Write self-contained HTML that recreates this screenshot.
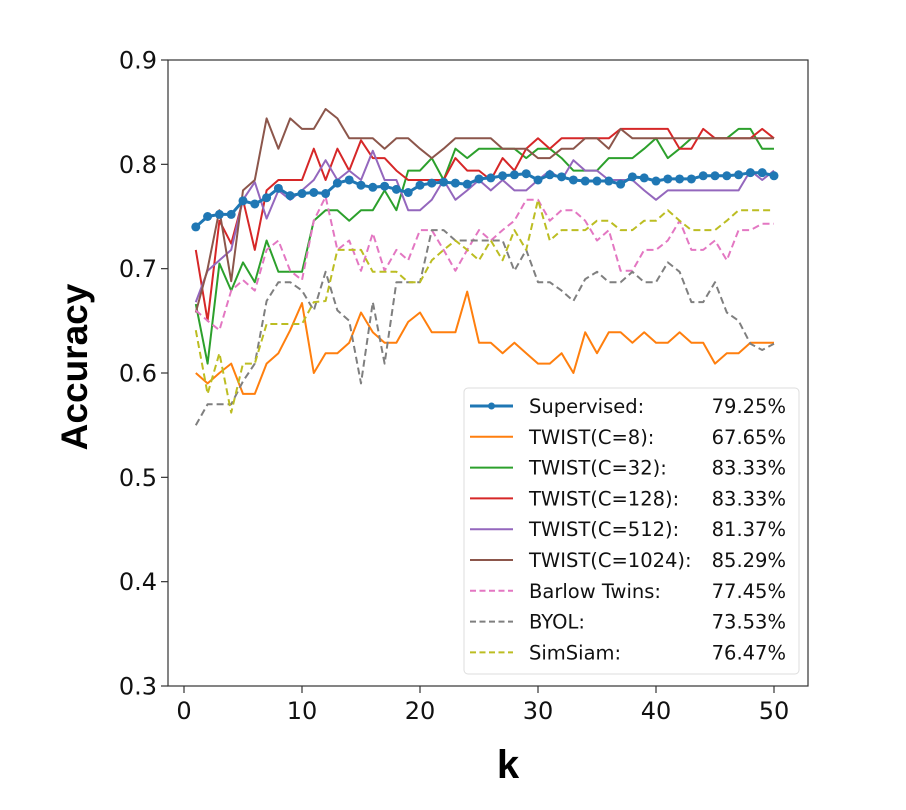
<!DOCTYPE html>
<html><head><meta charset="utf-8"><style>
body{margin:0;background:#fff}
svg{display:block;font-family:"DejaVu Sans","Liberation Sans",sans-serif}
</style></head><body>
<svg id="chart" width="906" height="810" xmlns="http://www.w3.org/2000/svg">
<rect x="0" y="0" width="906" height="810" fill="#fff"/>
<g id="plot"></g>
<rect x="168" y="60" width="640" height="626" fill="none" stroke="#333" stroke-width="1.2"/>
<g id="axes"></g>
<text x="87" y="367" font-size="37" font-weight="bold" text-anchor="middle" transform="rotate(-90 87 367)" font-family="Liberation Sans, sans-serif">Accuracy</text>
<text x="508" y="778" font-size="40" font-weight="bold" text-anchor="middle" font-family="Liberation Sans, sans-serif">k</text>
<g id="legend"></g>
</svg>
<script>
const xTicks=[0,10,20,30,40,50];
const yTicks=[0.3,0.4,0.5,0.6,0.7,0.8,0.9];
const seriesNames=["Supervised:","TWIST(C=8):","TWIST(C=32):","TWIST(C=128):","TWIST(C=512):","TWIST(C=1024):","Barlow Twins:","BYOL:","SimSiam:"];
const seriesScores=["79.25%","67.65%","83.33%","83.33%","81.37%","85.29%","77.45%","73.53%","76.47%"];
const supervised=[0.74,0.75,0.752,0.752,0.765,0.762,0.768,0.777,0.77,0.772,0.773,0.772,0.782,0.785,0.78,0.778,0.779,0.776,0.773,0.78,0.782,0.783,0.782,0.781,0.786,0.787,0.789,0.79,0.791,0.785,0.79,0.788,0.785,0.784,0.784,0.784,0.781,0.788,0.787,0.784,0.786,0.786,0.786,0.789,0.789,0.789,0.79,0.792,0.792,0.789];
const twist8=[0.600,0.590,0.600,0.609,0.580,0.580,0.609,0.619,0.641,0.667,0.600,0.619,0.619,0.629,0.658,0.639,0.629,0.629,0.649,0.658,0.639,0.639,0.639,0.678,0.629,0.629,0.619,0.629,0.619,0.609,0.609,0.619,0.600,0.639,0.619,0.639,0.639,0.629,0.639,0.629,0.629,0.639,0.629,0.629,0.609,0.619,0.619,0.629,0.629,0.629];
const twist32=[0.666,0.609,0.705,0.679,0.706,0.687,0.727,0.697,0.697,0.697,0.746,0.756,0.756,0.746,0.756,0.756,0.775,0.756,0.794,0.794,0.806,0.785,0.815,0.806,0.815,0.815,0.815,0.815,0.806,0.815,0.815,0.806,0.794,0.794,0.794,0.806,0.806,0.806,0.815,0.825,0.806,0.815,0.825,0.825,0.825,0.825,0.834,0.834,0.815,0.815];
const twist128=[0.718,0.650,0.746,0.724,0.766,0.718,0.775,0.785,0.785,0.785,0.815,0.785,0.815,0.794,0.823,0.806,0.806,0.794,0.785,0.785,0.785,0.785,0.806,0.794,0.794,0.785,0.806,0.794,0.815,0.825,0.815,0.825,0.825,0.825,0.825,0.825,0.834,0.834,0.834,0.834,0.834,0.815,0.815,0.834,0.825,0.825,0.825,0.825,0.834,0.825];
const twist512=[0.668,0.698,0.708,0.718,0.766,0.783,0.748,0.775,0.766,0.775,0.785,0.804,0.785,0.794,0.785,0.813,0.785,0.785,0.756,0.756,0.766,0.785,0.766,0.775,0.785,0.775,0.785,0.775,0.775,0.785,0.794,0.785,0.804,0.794,0.794,0.785,0.785,0.785,0.775,0.766,0.775,0.775,0.775,0.775,0.775,0.775,0.775,0.794,0.785,0.794];
const twist1024=[0.658,0.700,0.756,0.688,0.775,0.785,0.844,0.815,0.844,0.834,0.834,0.853,0.844,0.825,0.825,0.825,0.815,0.825,0.825,0.815,0.806,0.815,0.825,0.825,0.825,0.825,0.815,0.815,0.815,0.806,0.806,0.815,0.815,0.825,0.825,0.815,0.834,0.825,0.825,0.825,0.825,0.825,0.825,0.825,0.825,0.825,0.825,0.825,0.825,0.825];
const barlow=[0.660,0.650,0.641,0.679,0.689,0.679,0.718,0.727,0.698,0.689,0.746,0.769,0.718,0.727,0.698,0.734,0.698,0.718,0.708,0.737,0.737,0.718,0.698,0.718,0.737,0.727,0.737,0.746,0.766,0.766,0.746,0.756,0.756,0.746,0.727,0.737,0.698,0.698,0.718,0.718,0.727,0.746,0.718,0.718,0.727,0.708,0.737,0.737,0.743,0.743];
const byol=[0.550,0.570,0.570,0.570,0.592,0.609,0.669,0.687,0.687,0.679,0.660,0.697,0.660,0.650,0.590,0.668,0.609,0.687,0.687,0.687,0.737,0.737,0.727,0.727,0.727,0.727,0.727,0.698,0.718,0.687,0.687,0.679,0.669,0.690,0.697,0.687,0.687,0.697,0.687,0.687,0.706,0.697,0.668,0.668,0.687,0.658,0.650,0.628,0.622,0.628];
const simsiam=[0.641,0.580,0.619,0.562,0.609,0.609,0.647,0.647,0.647,0.647,0.668,0.669,0.718,0.718,0.718,0.697,0.697,0.697,0.687,0.687,0.708,0.718,0.727,0.718,0.708,0.727,0.708,0.737,0.718,0.766,0.727,0.737,0.737,0.737,0.746,0.746,0.737,0.737,0.746,0.746,0.756,0.746,0.737,0.737,0.737,0.746,0.756,0.756,0.756,0.756];
const allSeries=[supervised,twist8,twist32,twist128,twist512,twist1024,barlow,byol,simsiam];
const colors=["#1f77b4","#ff7f0e","#2ca02c","#d62728","#9467bd","#8c564b","#e377c2","#7f7f7f","#bcbd22"];
const dashed=[false,false,false,false,false,false,true,true,true];
const NS="http://www.w3.org/2000/svg";
function xs(k){return 184+k*11.8;}
function ys(v){return 686-(v-0.3)/0.6*626;}
function mk(tag,attrs,parent){const e=document.createElementNS(NS,tag);for(const a in attrs)e.setAttribute(a,attrs[a]);parent.appendChild(e);return e;}
const axes=document.getElementById('axes');
xTicks.forEach(t=>{
  const l=mk('line',{x1:xs(t),x2:xs(t),y1:686,y2:693,stroke:'#333','stroke-width':1.2},axes);
  
  
  const tx=mk('text',{x:xs(t),y:719,'font-size':24,'text-anchor':'middle',fill:'#111'},axes);
  tx.textContent=t;
  
  
});
yTicks.forEach(t=>{
  const l=mk('line',{x1:161,x2:168,y1:ys(t),y2:ys(t),stroke:'#333','stroke-width':1.2},axes);
  
  
  const tx=mk('text',{x:157,y:ys(t)+8.5,'font-size':24,'text-anchor':'end',fill:'#111'},axes);
  tx.textContent=t.toFixed(1);
  
  
});
const plot=document.getElementById('plot');
const order=[1,2,3,4,5,6,7,8,0];
order.forEach(i=>{
  const d=allSeries[i].map((v,j)=>(j?'L':'M')+xs(j+1).toFixed(1)+' '+ys(v).toFixed(1)).join(' ');
  const p=mk('path',{d:d,fill:'none',stroke:colors[i],'stroke-width':i===0?3:2,'stroke-linejoin':'round'},plot);
  if(dashed[i])p.setAttribute('stroke-dasharray','7 4');
  
  
  if(i===0){
    allSeries[0].forEach((v,j)=>{
      const c=mk('circle',{cx:xs(j+1),cy:ys(v),r:4.5,fill:colors[0]},plot);
      
      
    });
  }
});
const lg=document.getElementById('legend');
const box=mk('rect',{x:464,y:388,width:335,height:286,rx:4,fill:'#fff',stroke:'#ddd','stroke-width':1,'fill-opacity':0.85},lg);


seriesNames.forEach((n,i)=>{
  const y=406+i*30.8;
  const g=mk('g',{},lg);
  
  
  const l=mk('line',{x1:470,x2:513,y1:y,y2:y,stroke:colors[i],'stroke-width':i===0?3:2},g);
  if(dashed[i])l.setAttribute('stroke-dasharray','6 3.5');
  if(i===0)mk('circle',{cx:491.5,cy:y,r:3.5,fill:colors[0]},g);
  const t=mk('text',{x:529,y:y+7,'font-size':19.5,fill:'#111'},g);
  t.textContent=n;
  const s=mk('text',{x:786,y:y+7,'font-size':19.5,'text-anchor':'end',fill:'#111'},g);
  s.textContent=seriesScores[i];
});
</script>
</body></html>
